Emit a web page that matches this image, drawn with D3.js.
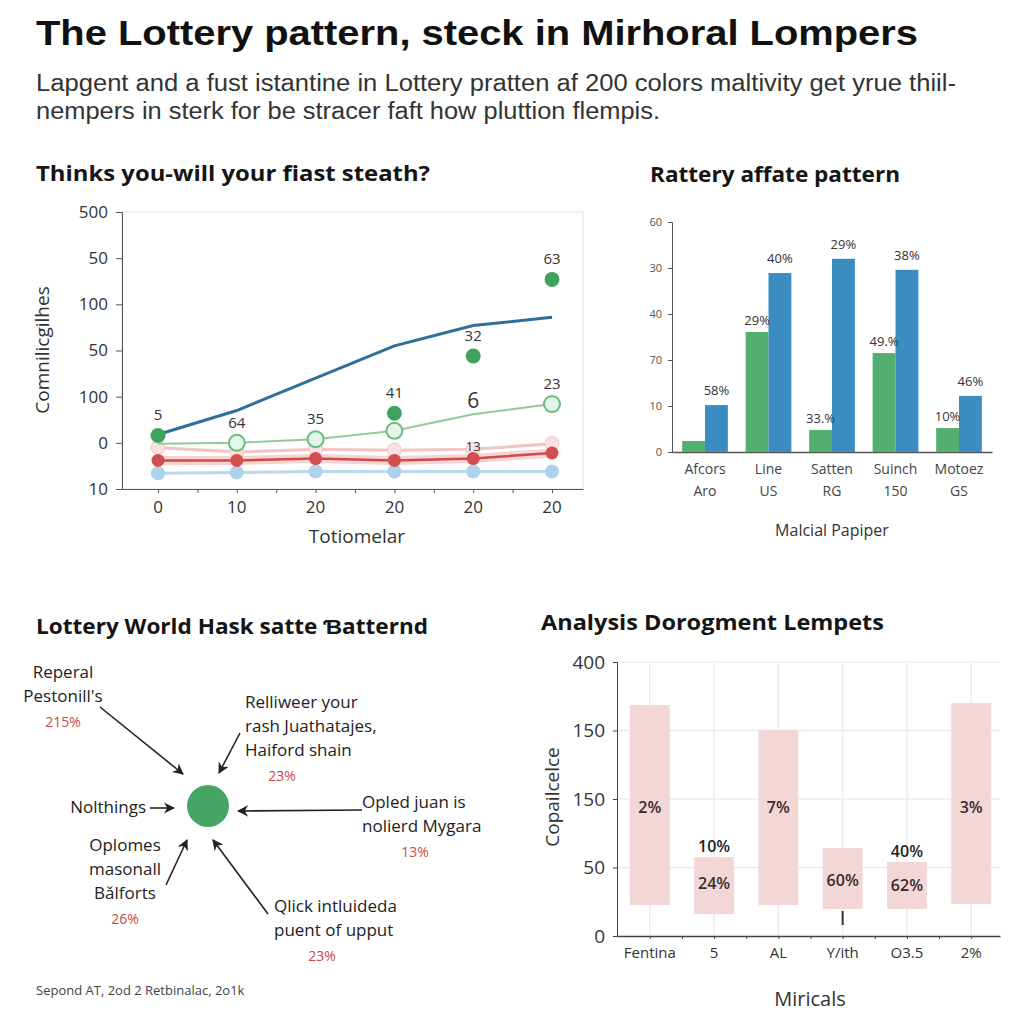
<!DOCTYPE html>
<html><head><meta charset="utf-8">
<script src="https://cdn.jsdelivr.net/npm/d3@7"></script>
<style>body{margin:0;background:#fff}svg{display:block;font-family:"Open Sans","Liberation Sans",sans-serif}</style>
</head><body>
<script>
// ---------- DATA ----------
const mainTitle = "The Lottery pattern, steck in Mirhoral Lompers";
const subtitleLines = ["Lapgent and a fust istantine in Lottery pratten af 200 colors maltivity get yrue thiil-",
                       "nempers in sterk for be stracer faft how pluttion flempis."];

// Panel 1: line chart
const p1Title = "Thinks you-will your fiast steath?";
const p1XLabels = ["0","10","20","20","20","20"];
const p1YTicks = [0,50,100,150,200,250,300];
const p1YLabels = ["10","0","100","50","100","50","500"];
const p1DarkBlue = [59,85,120,155,177,186];
const p1GreenDots = [58,null,null,82,144,227];
const p1GreenDotLabels = ["5",null,null,"41","32","63"];
const p1LightGreen = [49,50,54,63,81,92];
const p1LightGreenCircles = [false,true,true,true,false,true];
const p1LightGreenLabels = [null,"64","35",null,"6","23"];
const p1Pink = [45,40,43,42,43,49];
const p1PinkLabels = [null,null,null,null,"13",null];
const p1Red = [31,31,33,31,33,39];
const p1LightBlue = [17,18,19,19,19,19];
const p1XTitle = "Totiomelar";
const p1YTitle = "Comnilicgilhes";

// Panel 2: grouped bars
const p2Title = "Rattery affate pattern";
const p2CatLine1 = ["Afcors","Line","Satten","Suinch","Motoez"];
const p2CatLine2 = ["Aro","US","RG","150","GS"];
const p2Green = [2.4,26.1,4.8,21.5,5.2];
const p2Blue = [10.2,38.9,42,39.6,12.2];
const p2GreenLabels = [null,"29%","33.%","49.%","10%"];
const p2BlueLabels = ["58%","40%","29%","38%","46%"];
const p2YTicks = [0,10,20,30,40,50];
const p2YLabels = ["0","10","70","40","30","60"];
const p2XTitle = "Malcial Papiper";

// Panel 3: diagram
const p3Title = "Lottery World Hask satte Ɓatternd";
const p3Nodes = [
  {lines:["Reperal","Pestonill's"], pct:"215%"},
  {lines:["Relliweer your","rash Juathatajes,","Haiford shain"], pct:"23%"},
  {lines:["Nolthings"], pct:null},
  {lines:["Opled juan is","nolierd Mygara"], pct:"13%"},
  {lines:["Oplomes","masonall","Bǎlforts"], pct:"26%"},
  {lines:["Qlick intluideda","puent of upput"], pct:"23%"}
];
const p3Footer = "Sepond AT, 2od 2 Retbinalac, 2o1k";

// Panel 4: floating bars
const p4Title = "Analysis Dorogment Lempets";
const p4Cats = ["Fentina","5","AL","Y/ith","O3.5","2%"];
const p4Low = [22.6,16,22.6,19.7,19.7,23.4];
const p4High = [168.6,57.7,150.4,64.2,54,170];
const p4InLabels = ["2%","24%","7%","60%","62%","3%"];
const p4InLabelAt = [90,34,90,36.5,33,90];
const p4TopLabels = [null,"10%",null,null,"40%",null];
const p4YTicks = [0,50,100,150,200];
const p4YLabels = ["0","50","150","150","400"];
const p4XTitle = "Miricals";
const p4YTitle = "Copailcelce";

// ---------- DRAW ----------
const svg = d3.select("body").append("svg").attr("width",1024).attr("height",1024);
svg.append("rect").attr("width",1024).attr("height",1024).attr("fill","#fff");

svg.append("text").attr("x",36).attr("y",45).attr("font-size",35).attr("font-weight","bold")
  .attr("font-family","'Liberation Sans Narrow','Liberation Sans',sans-serif")
  .attr("fill","#111").attr("textLength",882).attr("lengthAdjust","spacingAndGlyphs").text(mainTitle);
subtitleLines.forEach((t,i)=>{
  svg.append("text").attr("x",36).attr("y",91+i*28).attr("font-size",23)
    .attr("font-family","'Liberation Sans Narrow','Liberation Sans',sans-serif")
    .attr("fill","#333").attr("textLength", i===0?920:624).attr("lengthAdjust","spacingAndGlyphs").text(t);
});

function panelTitle(t,x,y,w){
  svg.append("text").attr("x",x).attr("y",y).attr("font-size",21).attr("font-weight","bold")
    .attr("fill","#151515").attr("textLength",w).attr("lengthAdjust","spacingAndGlyphs").text(t);
}
function styleAxis(g, col, fs){
  g.selectAll("path").attr("stroke",col);
  g.selectAll("line").attr("stroke",col);
  g.selectAll("text").attr("fill","#333").attr("font-size",fs).attr("font-family","'Open Sans',sans-serif");
}

// ----- Panel 1 -----
panelTitle(p1Title,36,181,394);
const x1 = d3.scalePoint().domain(d3.range(6)).range([158,552]);
const y1 = d3.scaleLinear().domain([0,300]).range([489,212]);
const g1 = svg.append("g");
g1.append("rect").attr("x",122).attr("y",212).attr("width",461).attr("height",277)
  .attr("fill","none").attr("stroke","#e2e2e2");
const ax1 = g1.append("g").attr("transform","translate(122,0)")
  .call(d3.axisLeft(y1).tickValues(p1YTicks).tickFormat((d,i)=>p1YLabels[i]).tickSize(6).tickPadding(8));
styleAxis(ax1,"#555",17);
const minor1 = [];
d3.range(6).forEach(i=>{minor1.push(x1(i)); if(i<5) minor1.push((x1(i)+x1(i+1))/2);});
const bx1 = g1.append("g").attr("transform","translate(0,489)")
  .call(d3.axisBottom(d3.scaleLinear().domain([122,583]).range([122,583])).tickValues(minor1).tickFormat("").tickSize(4).tickSizeOuter(0));
styleAxis(bx1,"#555",16);
g1.selectAll(".xl").data(p1XLabels).join("text").attr("x",(d,i)=>x1(i)).attr("y",513)
  .attr("text-anchor","middle").attr("font-size",17).attr("fill","#333").text(d=>d);
g1.append("text").attr("x",357).attr("y",543).attr("text-anchor","middle").attr("font-size",19).attr("fill","#333").text(p1XTitle);
g1.append("text").attr("transform","translate(49,350) rotate(-90)").attr("text-anchor","middle")
  .attr("font-size",19).attr("fill","#333").text(p1YTitle);

const line = d3.line().x((d,i)=>x1(i)).y(d=>y1(d)).curve(d3.curveLinear);
g1.append("path").attr("d",line(p1LightBlue)).attr("fill","none").attr("stroke","#b9d9ee").attr("stroke-width",3);
g1.selectAll(".lb").data(p1LightBlue).join("circle").attr("cx",(d,i)=>x1(i)).attr("cy",d=>y1(d)).attr("r",7).attr("fill","#acd2ec");
g1.append("path").attr("d",line(p1Pink)).attr("fill","none").attr("stroke","#f2c4c4").attr("stroke-width",3);
g1.selectAll(".pk").data(p1Pink).join("circle").attr("cx",(d,i)=>x1(i)).attr("cy",d=>y1(d)).attr("r",7).attr("fill","#fbe1e1").attr("stroke","#f2c4c4");
g1.append("path").attr("d",line(p1Red)).attr("fill","none").attr("stroke","#f7d3d3").attr("stroke-width",9);
g1.append("path").attr("d",line(p1Red)).attr("fill","none").attr("stroke","#cf4b4b").attr("stroke-width",2.5);
g1.selectAll(".rd").data(p1Red).join("circle").attr("cx",(d,i)=>x1(i)).attr("cy",d=>y1(d)).attr("r",6.5).attr("fill","#d34f4f");
g1.append("path").attr("d",line(p1LightGreen)).attr("fill","none").attr("stroke","#8fcc9c").attr("stroke-width",2);
g1.selectAll(".lg").data(p1LightGreen.map((v,i)=>({v,i})).filter(d=>p1LightGreenCircles[d.i])).join("circle")
  .attr("cx",d=>x1(d.i)).attr("cy",d=>y1(d.v)).attr("r",8).attr("fill","#e6f5e9").attr("stroke","#6dbb80").attr("stroke-width",2);
g1.append("path").attr("d",line(p1DarkBlue)).attr("fill","none").attr("stroke","#2f6f98").attr("stroke-width",3);
const gd = p1GreenDots.map((v,i)=>({v,i})).filter(d=>d.v!==null);
g1.selectAll(".gd").data(gd).join("circle").attr("cx",d=>x1(d.i)).attr("cy",d=>y1(d.v)).attr("r",7.5).attr("fill","#3ea35f");
const lab1 = [];
p1GreenDotLabels.forEach((t,i)=>{ if(t) lab1.push({t,i,v:p1GreenDots[i],dy:-15,fs:15}); });
p1LightGreenLabels.forEach((t,i)=>{ if(t) lab1.push({t,i,v:p1LightGreen[i],dy:t==="6"?-6:-15,fs:t==="6"?21:15}); });
p1PinkLabels.forEach((t,i)=>{ if(t) lab1.push({t,i,v:p1Pink[i],dy:2,fs:13}); });
g1.selectAll(".l1").data(lab1).join("text").attr("x",d=>x1(d.i)).attr("y",d=>y1(d.v)+d.dy)
  .attr("text-anchor","middle").attr("font-size",d=>d.fs).attr("fill","#333").text(d=>d.t);

// ----- Panel 2 -----
panelTitle(p2Title,650,182,250);
const x2 = d3.scaleBand().domain(d3.range(5)).range([672,992]).paddingInner(0.28).paddingOuter(0.16);
const x2s = d3.scaleBand().domain([0,1]).range([0,x2.bandwidth()]);
const y2 = d3.scaleLinear().domain([0,50]).range([452,222]);
const g2 = svg.append("g");
const ay2 = g2.append("g").attr("transform","translate(672,0)")
  .call(d3.axisLeft(y2).tickValues(p2YTicks).tickFormat((d,i)=>p2YLabels[i]).tickSize(4).tickPadding(6));
styleAxis(ay2,"#555",11);
ay2.selectAll("text").attr("fill","#555");
const ax2 = g2.append("g").attr("transform","translate(0,452)")
  .call(d3.axisBottom(d3.scaleLinear().domain([672,992]).range([672,992])).tickValues([]).tickSizeOuter(0));
styleAxis(ax2,"#555",11);
ax2.select("path").attr("stroke-width",1.5);
g2.selectAll(".gb").data(p2Green).join("rect").attr("x",(d,i)=>x2(i)+x2s(0)).attr("width",x2s.bandwidth())
  .attr("y",d=>y2(d)).attr("height",d=>452-y2(d)).attr("fill","#53b070");
g2.selectAll(".bb").data(p2Blue).join("rect").attr("x",(d,i)=>x2(i)+x2s(1)).attr("width",x2s.bandwidth())
  .attr("y",d=>y2(d)).attr("height",d=>452-y2(d)).attr("fill","#3a8cc1");
const gLab = p2GreenLabels.map((t,i)=>({t,i})).filter(d=>d.t);
g2.selectAll(".gl").data(gLab).join("text")
  .attr("x",d=>x2(d.i)+x2s(0)+x2s.bandwidth()/2).attr("y",d=>y2(p2Green[d.i])-7)
  .attr("text-anchor","middle").attr("font-size",13).attr("fill","#333").text(d=>d.t);
g2.selectAll(".bl").data(p2BlueLabels).join("text")
  .attr("x",(d,i)=>x2(i)+x2s(1)+x2s.bandwidth()/2).attr("y",(d,i)=>y2(p2Blue[i])-10)
  .attr("text-anchor","middle").attr("font-size",13).attr("fill","#333").text(d=>d);
g2.selectAll(".c1").data(p2CatLine1).join("text").attr("x",(d,i)=>x2(i)+x2.bandwidth()/2).attr("y",474)
  .attr("text-anchor","middle").attr("font-size",14).attr("fill","#444").text(d=>d);
g2.selectAll(".c2").data(p2CatLine2).join("text").attr("x",(d,i)=>x2(i)+x2.bandwidth()/2).attr("y",496)
  .attr("text-anchor","middle").attr("font-size",14).attr("fill","#444").text(d=>d);
g2.append("text").attr("x",832).attr("y",536).attr("text-anchor","middle").attr("font-size",16).attr("fill","#333").text(p2XTitle);

// ----- Panel 3 -----
panelTitle(p3Title,36,634,392);
const g3 = svg.append("g");
svg.append("defs").append("marker").attr("id","arr").attr("viewBox","0 0 10 10").attr("refX",9).attr("refY",5)
  .attr("markerWidth",7).attr("markerHeight",7).attr("orient","auto")
  .append("path").attr("d","M0,0 L10,5 L0,10 L3,5 z").attr("fill","#222");
const center = [208,806];
g3.append("circle").attr("cx",center[0]).attr("cy",center[1]).attr("r",21).attr("fill","#45a565");
const p3Layout = [
  {tx:63, ty:678, anchor:"middle", pctx:63, from:[100,707], to:[183,774]},
  {tx:245, ty:708, anchor:"start", pctx:282, from:[240,733], to:[219,773]},
  {tx:146, ty:813, anchor:"end", pctx:0, from:[150,808], to:[174,808]},
  {tx:362, ty:808, anchor:"start", pctx:415, from:[362,810], to:[238,811]},
  {tx:125, ty:851, anchor:"middle", pctx:125, from:[166,885], to:[187,840]},
  {tx:274, ty:912, anchor:"start", pctx:322, from:[268,914], to:[213,840]}
];
p3Nodes.forEach((n,k)=>{
  const L = p3Layout[k];
  n.lines.forEach((t,j)=>{
    g3.append("text").attr("x",L.tx).attr("y",L.ty+j*24).attr("text-anchor",L.anchor)
      .attr("font-size",17).attr("fill","#222").text(t);
  });
  if(n.pct){
    g3.append("text").attr("x",L.pctx).attr("y",L.ty+n.lines.length*24+1).attr("text-anchor","middle")
      .attr("font-size",14).attr("fill","#c94a4a").text(n.pct);
  }
  g3.append("line").attr("x1",L.from[0]).attr("y1",L.from[1]).attr("x2",L.to[0]).attr("y2",L.to[1])
    .attr("stroke","#222").attr("stroke-width",1.6).attr("marker-end","url(#arr)");
});
g3.append("text").attr("x",36).attr("y",995).attr("font-size",13).attr("fill","#444").text(p3Footer);

// ----- Panel 4 -----
panelTitle(p4Title,541,630,343);
const x4 = d3.scaleBand().domain(d3.range(6)).range([617,1004]).paddingInner(0.38).paddingOuter(0.2);
const y4 = d3.scaleLinear().domain([0,200]).range([936,662]);
const g4 = svg.append("g");
g4.selectAll(".hg").data(p4YTicks.slice(1)).join("line").attr("x1",617).attr("x2",1000)
  .attr("y1",d=>y4(d)).attr("y2",d=>y4(d)).attr("stroke","#ececec").attr("stroke-width",1.5);
g4.selectAll(".vg").data(d3.range(6)).join("line").attr("x1",i=>x4(i)+x4.bandwidth()/2).attr("x2",i=>x4(i)+x4.bandwidth()/2)
  .attr("y1",662).attr("y2",936).attr("stroke","#ececec").attr("stroke-width",1.5);
g4.selectAll(".fb").data(p4High).join("rect").attr("x",(d,i)=>x4(i)).attr("width",x4.bandwidth())
  .attr("y",d=>y4(d)).attr("height",(d,i)=>y4(p4Low[i])-y4(d)).attr("fill","#f3d6d6");
g4.append("line").attr("x1",x4(3)+x4.bandwidth()/2).attr("x2",x4(3)+x4.bandwidth()/2)
  .attr("y1",y4(p4Low[3])+2).attr("y2",y4(p4Low[3])+16).attr("stroke","#333").attr("stroke-width",2);
const ay4 = g4.append("g").attr("transform","translate(617,0)")
  .call(d3.axisLeft(y4).tickValues(p4YTicks).tickFormat((d,i)=>p4YLabels[i]).tickSize(4).tickPadding(8));
styleAxis(ay4,"#444",19);
const mt4 = [];
d3.range(6).forEach(i=>{const c=x4(i)+x4.bandwidth()/2; mt4.push(c); if(i<5) mt4.push(c+x4.step()/2);});
const ax4 = g4.append("g").attr("transform","translate(0,936)")
  .call(d3.axisBottom(d3.scaleLinear().domain([617,1000]).range([617,1000])).tickValues(mt4).tickFormat("").tickSize(3).tickSizeOuter(0));
styleAxis(ax4,"#444",15);
ax4.select("path").attr("stroke-width",1.5);
g4.selectAll(".cx").data(p4Cats).join("text").attr("x",(d,i)=>x4(i)+x4.bandwidth()/2).attr("y",958)
  .attr("text-anchor","middle").attr("font-size",15).attr("fill","#333").text(d=>d);
g4.selectAll(".il").data(p4InLabels).join("text").attr("x",(d,i)=>x4(i)+x4.bandwidth()/2)
  .attr("y",(d,i)=>y4(p4InLabelAt[i]))
  .attr("text-anchor","middle").attr("font-size",16).attr("font-weight",600).attr("fill","#3a2a2a").text(d=>d);
const tLab = p4TopLabels.map((t,i)=>({t,i})).filter(d=>d.t);
g4.selectAll(".tl").data(tLab).join("text")
  .attr("x",d=>x4(d.i)+x4.bandwidth()/2).attr("y",d=>y4(p4High[d.i])-5)
  .attr("text-anchor","middle").attr("font-size",16).attr("font-weight",600).attr("fill","#222").text(d=>d.t);
g4.append("text").attr("x",810).attr("y",1006).attr("text-anchor","middle").attr("font-size",20).attr("fill","#333").text(p4XTitle);
g4.append("text").attr("transform","translate(559,797) rotate(-90)").attr("text-anchor","middle")
  .attr("font-size",19).attr("fill","#333").text(p4YTitle);
</script>
</body></html>
